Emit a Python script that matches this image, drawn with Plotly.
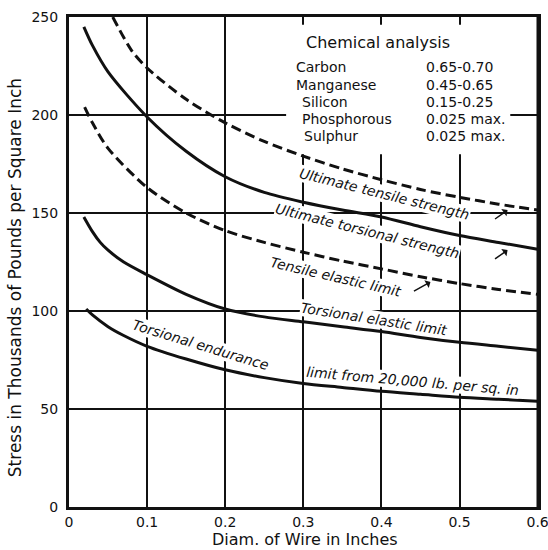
import plotly.graph_objects as go

# ---- data ----
x_ult_tensile = [0.056, 0.08, 0.1, 0.15, 0.2, 0.25, 0.3, 0.35, 0.4, 0.45, 0.5, 0.55, 0.6]
y_ult_tensile = [250, 233, 224, 208, 196, 186.5, 179, 172.5, 167, 162, 158, 154.5, 151.5]

x_ult_torsional = [0.019, 0.03, 0.05, 0.1, 0.15, 0.2, 0.25, 0.3, 0.35, 0.4, 0.45, 0.5, 0.55, 0.6]
y_ult_torsional = [245, 235.5, 222, 199, 181.5, 168.5, 160.5, 155.5, 151.5, 148, 143, 138.5, 135, 131.5]

x_tens_elastic = [0.02, 0.03, 0.05, 0.1, 0.15, 0.2, 0.25, 0.3, 0.35, 0.4, 0.45, 0.5, 0.55, 0.6]
y_tens_elastic = [204, 196, 183, 163, 150, 141, 135, 130, 125.5, 121.5, 117.5, 114, 111, 108.5]

x_tors_elastic = [0.019, 0.03, 0.04, 0.05, 0.07, 0.1, 0.15, 0.2, 0.25, 0.3, 0.35, 0.4, 0.45, 0.5, 0.55, 0.6]
y_tors_elastic = [148, 140.5, 135, 131, 125, 118.5, 108.5, 101, 97, 94.5, 92, 89.5, 86.5, 84, 82, 80]

x_endurance = [0.022, 0.03, 0.05, 0.07, 0.1, 0.15, 0.2, 0.25, 0.3, 0.35, 0.4, 0.45, 0.5, 0.55, 0.6]
y_endurance = [101, 98, 92, 87.5, 82, 75.5, 70, 66, 63, 61, 59, 57.5, 56, 55, 54]

x_ticks = [0, 0.1, 0.2, 0.3, 0.4, 0.5, 0.6]
x_tick_labels = ["0", "0.1", "0.2", "0.3", "0.4", "0.5", "0.6"]
y_ticks = [0, 50, 100, 150, 200, 250]
y_tick_labels = ["0", "50", "100", "150", "200", "250"]

chem_elements = ["Carbon", "Manganese", "Silicon", "Phosphorous", "Sulphur"]
chem_values = ["0.65-0.70", "0.45-0.65", "0.15-0.25", "0.025 max.", "0.025 max."]

FONT = "DejaVu Sans"
BLACK = "#111111"

fig = go.Figure()


def add_curve(xs, ys, dashed):
    fig.add_trace(go.Scatter(
        x=xs, y=ys, mode="lines",
        line=dict(color=BLACK, width=3, shape="spline", smoothing=0.8,
                  dash="10px,5px" if dashed else "solid"),
        showlegend=False, hoverinfo="skip"))


add_curve(x_ult_tensile, y_ult_tensile, True)
add_curve(x_ult_torsional, y_ult_torsional, False)
add_curve(x_tens_elastic, y_tens_elastic, True)
add_curve(x_tors_elastic, y_tors_elastic, False)
add_curve(x_endurance, y_endurance, False)

# white patch hiding grid behind the chemical analysis table
fig.add_shape(type="rect", x0=0.278, x1=0.565, y0=180, y1=246,
              fillcolor="white", line=dict(width=0), layer="between")

# right-hand frame edge
fig.add_shape(type="line", xref="paper", yref="paper", x0=1, x1=1, y0=0, y1=1,
              line=dict(color=BLACK, width=3), layer="above")

# curve labels
labels = [
    ("Ultimate tensile strength", 0.404, 159.7, 14),
    ("Ultimate torsional strength", 0.382, 140.8, 14),
    ("Tensile elastic limit", 0.342, 117.3, 13),
    ("Torsional elastic limit", 0.39, 95.9, 9),
    ("Torsional endurance", 0.169, 82.7, 17),
    ("limit from 20,000 lb. per sq. in", 0.44, 64.3, 5),
]
for txt, lx, ly, ang in labels:
    fig.add_annotation(x=lx, y=ly, text=f"<i>{txt}</i>", textangle=ang,
                       showarrow=False, bgcolor="white", borderpad=0,
                       font=dict(family=FONT, size=14, color=BLACK))

# small pointer arrows
arrows = [(0.5615, 151.5, -14, 10), (0.5615, 131.1, -14, 10), (0.4628, 114.8, -18, 10)]
for hx, hy, dx, dy in arrows:
    fig.add_annotation(x=hx, y=hy, ax=dx, ay=dy, text="", showarrow=True,
                       arrowhead=1, arrowsize=1, arrowwidth=1.5, arrowcolor=BLACK)

# chemical analysis table
fig.add_annotation(x=0.396, y=237.2, text="Chemical analysis", showarrow=False,
                   font=dict(family=FONT, size=16, color=BLACK))
row_y = [224.5, 215.3, 206.6, 198.0, 189.3]
row_x = [0.2885, 0.2885, 0.296, 0.296, 0.298]
for name, val, ry, rx in zip(chem_elements, chem_values, row_y, row_x):
    fig.add_annotation(x=rx, y=ry, text=name, showarrow=False, xanchor="left",
                       font=dict(family=FONT, size=14, color=BLACK))
    fig.add_annotation(x=0.454, y=ry, text=val, showarrow=False, xanchor="left",
                       font=dict(family=FONT, size=14, color=BLACK))

# axis titles
fig.add_annotation(xref="paper", yref="paper", x=-0.1151, y=0.467,
                   xanchor="center", yanchor="middle",
                   text="Stress in Thousands of Pounds per Square Inch",
                   textangle=-90, showarrow=False,
                   font=dict(family=FONT, size=17, color=BLACK))
fig.add_annotation(xref="paper", yref="paper", x=0.503, y=-0.0673,
                   xanchor="center", yanchor="middle",
                   text="Diam. of Wire in Inches", showarrow=False,
                   font=dict(family=FONT, size=16, color=BLACK))

axis_common = dict(showline=True, mirror=True, linecolor=BLACK, linewidth=3,
                   showgrid=True, gridcolor=BLACK, gridwidth=2, zeroline=False,
                   automargin=False,
                   ticks="", tickfont=dict(family=FONT, size=14, color=BLACK))
fig.update_xaxes(range=[0, 0.6005], tickvals=x_ticks, ticktext=x_tick_labels,
                 ticklabeloverflow="allow", **axis_common)
fig.update_yaxes(range=[0, 250], tickvals=y_ticks, ticktext=y_tick_labels,
                 ticklabelstandoff=5, **axis_common)

fig.update_layout(width=548, height=550, margin=dict(l=69, r=10, t=17, b=43),
                  paper_bgcolor="white", plot_bgcolor="white",
                  font=dict(family=FONT, color=BLACK))

fig.write_html("out.html", config={"displayModeBar": False},
               post_script="document.body.style.margin='0';document.body.style.overflow='hidden';")
